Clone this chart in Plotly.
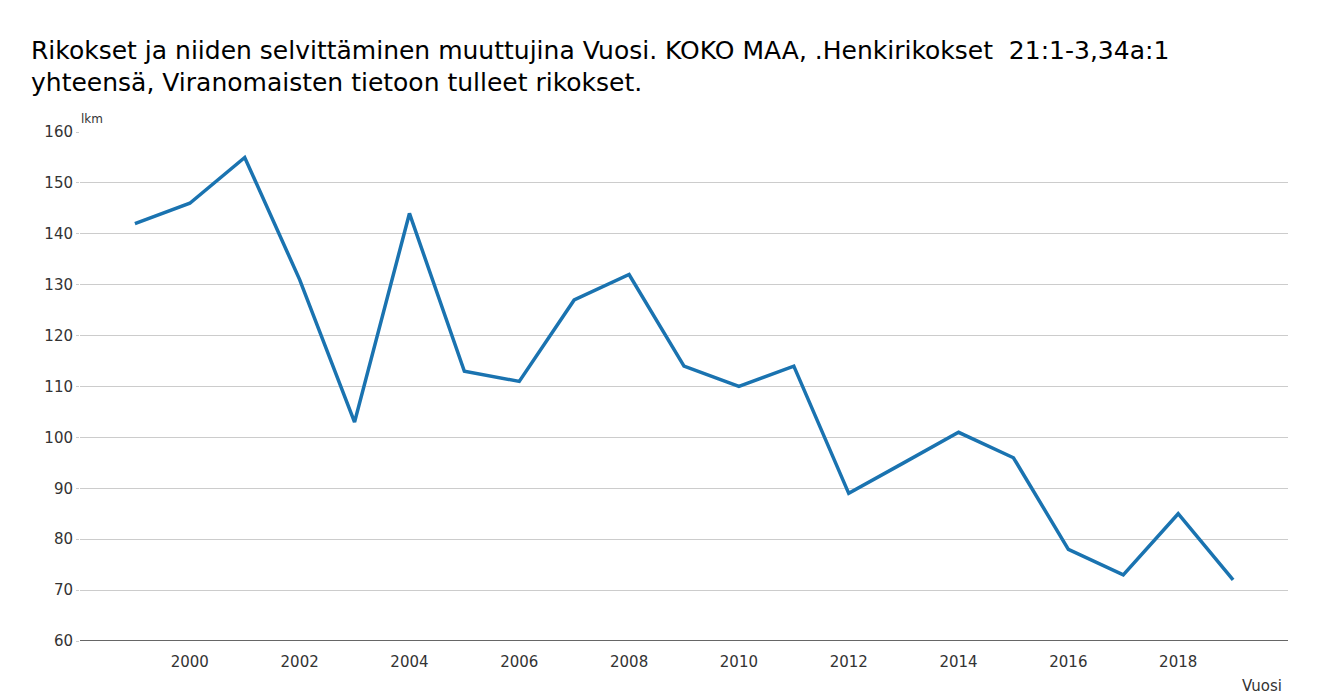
import plotly.graph_objects as go

years = list(range(1999, 2020))
values = [142, 146, 155, 131, 103, 144, 113, 111, 127, 132, 114, 110, 114, 89, 95, 101, 96, 78, 73, 85, 72]
x_ticks = [2000, 2002, 2004, 2006, 2008, 2010, 2012, 2014, 2016, 2018]
y_ticks = [60, 70, 80, 90, 100, 110, 120, 130, 140, 150, 160]

title1 = "Rikokset ja niiden selvittäminen muuttujina Vuosi. KOKO MAA, .Henkirikokset\u00a0\u00a021:1-3,34a:1"
title2 = "yhteensä, Viranomaisten tietoon tulleet rikokset."

font = "DejaVu Sans, Liberation Sans, Arial, sans-serif"

# the page body adds an 8px offset
OFF = 8
W, H = 1332 - OFF, 695 - OFF
L, R, T, B = 80 - OFF, 44, 132 - OFF, 54

fig = go.Figure()
fig.add_trace(go.Scatter(x=years, y=values, mode="lines",
                         line=dict(color="#1a73b0", width=3.5),
                         hoverinfo="x+y", showlegend=False))

fig.update_layout(
    width=W, height=H,
    margin=dict(l=L, r=R, t=T, b=B, autoexpand=False),
    paper_bgcolor="white", plot_bgcolor="white",
    font=dict(family=font, color="#333333"),
    xaxis=dict(range=[1998, 2020], tickvals=x_ticks, showgrid=False,
               zeroline=False, showline=False, ticks="",
               tickfont=dict(size=15, color="#333333"), ticklabelstandoff=10),
    yaxis=dict(range=[60, 160], tickvals=y_ticks, showgrid=True,
               gridcolor="#cccccc", gridwidth=1, zeroline=False,
               showline=False, ticks="outside", ticklen=3, tickcolor="#cccccc",
               tickfont=dict(size=15, color="#333333"), ticklabelstandoff=0),
    shapes=[dict(type="line", xref="paper", yref="y", x0=0, x1=1, y0=60, y1=60,
                 line=dict(color="#666666", width=2))],
)

def px_x(p):
    return (p - OFF - L) / (W - L - R)

def px_y(p):
    return (H - B - (p - OFF)) / (H - T - B)

annots = [
    dict(text=title1, x=px_x(29), y=px_y(51), size=25, color="#000000"),
    dict(text=title2, x=px_x(29), y=px_y(82), size=25, color="#000000"),
    dict(text="lkm", x=px_x(79), y=px_y(119), size=12, color="#333333"),
    dict(text="Vuosi", x=px_x(1240), y=px_y(686), size=15, color="#333333"),
]
for a in annots:
    fig.add_annotation(text=a["text"], xref="paper", yref="paper", x=a["x"], y=a["y"],
                       xanchor="left", yanchor="middle", showarrow=False,
                       font=dict(family=font, size=a["size"], color=a["color"]))

fig.write_html("out.html")
